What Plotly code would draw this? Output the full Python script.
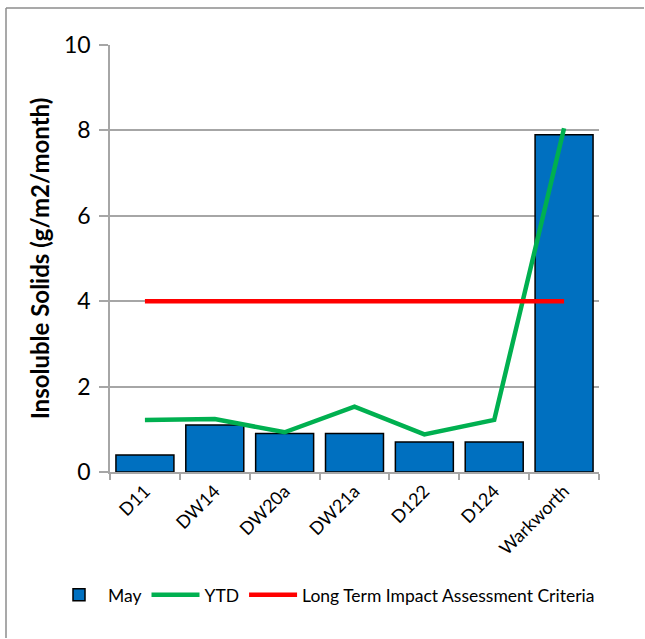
import plotly.graph_objects as go

# Monitoring sites and deposited dust results
sites = ["D11", "DW14", "DW20a", "DW21a", "D122", "D124", "Warkworth"]
may_values = [0.4, 1.1, 0.9, 0.9, 0.7, 0.7, 7.9]
ytd_values = [1.22, 1.24, 0.93, 1.53, 0.88, 1.22, 8.05]
criteria_values = [4, 4, 4, 4, 4, 4, 4]
y_ticks = [0, 2, 4, 6, 8, 10]

FONT = "Lato, 'Open Sans', sans-serif"
GRID = "#A6A6A6"

fig = go.Figure()
fig.add_trace(go.Bar(
    x=sites, y=may_values, name="May",
    marker=dict(color="#0070C0", line=dict(color="#000000", width=1.5)),
))
fig.add_trace(go.Scatter(
    x=sites, y=ytd_values, name="YTD", mode="lines",
    line=dict(color="#00B050", width=4.5),
))
fig.add_trace(go.Scatter(
    x=sites, y=criteria_values, name="Long Term Impact Assessment Criteria",
    mode="lines", line=dict(color="#FF0000", width=4.5),
))

# Outer chart frame (top and left edges)
fx = (6 - 110) / 489
fy = (472 - 8) / 427
fig.add_shape(type="line", xref="paper", yref="paper",
              x0=fx, x1=(644 - 110) / 489, y0=fy, y1=fy,
              line=dict(color="#8C8C8C", width=1.5))
fig.add_shape(type="line", xref="paper", yref="paper",
              x0=fx, x1=fx, y0=fy, y1=(472 - 638) / 427,
              line=dict(color="#8C8C8C", width=1.5))

fig.update_layout(
    width=645, height=639,
    margin=dict(l=110, r=46, t=45, b=167, autoexpand=False),
    paper_bgcolor="white", plot_bgcolor="white",
    font=dict(family=FONT, color="#000000"),
    bargap=0.17,
    showlegend=True,
    legend=dict(
        orientation="h", x=(50 - 110) / 489, y=-0.288, xanchor="left", yanchor="middle",
        font=dict(size=17.5, family=FONT), itemwidth=48, tracegroupgap=0,
    ),
    xaxis=dict(
        type="category", tickson="boundaries", ticks="outside", ticklen=6,
        tickcolor=GRID, tickwidth=1.5, showline=True, linecolor=GRID, linewidth=1.5,
        tickangle=-45, tickfont=dict(size=18, family=FONT), showgrid=False,
    ),
    yaxis=dict(
        range=[0, 10], tickvals=y_ticks, ticks="outside", ticklen=9,
        tickcolor=GRID, tickwidth=1.5, showline=True, linecolor=GRID, linewidth=1.5,
        showgrid=True, gridcolor=GRID, gridwidth=1.5, zeroline=False,
        tickfont=dict(size=23, family=FONT), ticklabelstandoff=4,
        title=dict(text="<b>Insoluble Solids (g/m2/month)</b>",
                   font=dict(size=24, family=FONT), standoff=8),
    ),
)

fig.write_html("out.html", config={"displayModeBar": False})
